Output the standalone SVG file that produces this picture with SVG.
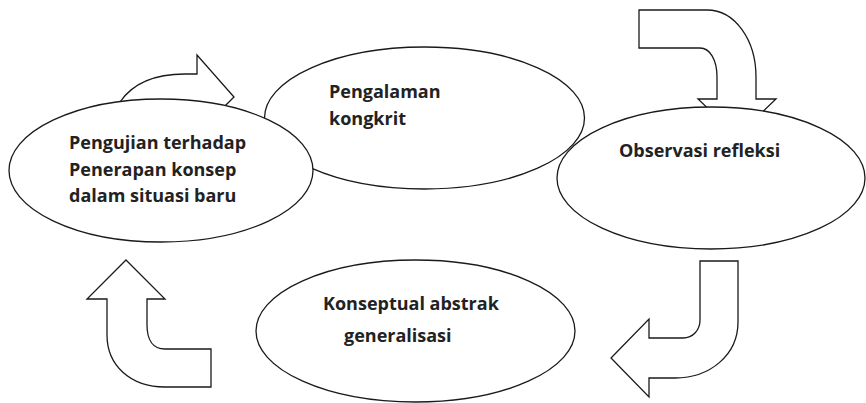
<svg xmlns="http://www.w3.org/2000/svg" width="866" height="403" viewBox="0 0 866 403">
<style>
.arrow{fill:#fff;stroke:#1a1a1a;stroke-width:1.3;stroke-linejoin:miter}
.node{fill:#fff;stroke:#1a1a1a;stroke-width:1.3}
.lbl{font-family:"Open Sans","Liberation Sans",sans-serif;font-weight:bold;font-size:18px;fill:#222}
</style>
<rect width="866" height="403" fill="#fff"/>
<g id="connectors">
<path class="arrow" d="M120,102 C135,80 160,74 185,74 H197 V55 L234,97 L225,106 L215,125 L130,125 Z"/>
<path class="arrow" d="M639,10 H707 C735,10 756,40 756,77 V99 H776 L737,136 L698,99 H717 V77 C717,60 710,48 700,48 H639 Z"/>
<path class="arrow" d="M700,261 H738 V322 C738,355 710,378 675,378 H649 V397 L611,358 L649,319 V338 H683 C693,338 700,330 700,320 Z"/>
<path class="arrow" d="M126,260 L165,299 H147 V325 C147,340 153,349 165,349 H211 V387 H165 C130,387 107,365 107,335 V299 H87 Z"/>
</g>
<g id="pengalaman">
<ellipse class="node" cx="424.5" cy="118" rx="160" ry="71"/>
<text class="lbl" x="329" y="98">Pengalaman</text>
<text class="lbl" x="329" y="125">kongkrit</text>
</g>
<g id="observasi">
<ellipse class="node" cx="711" cy="178" rx="154" ry="71"/>
<text class="lbl" x="619" y="157">Observasi refleksi</text>
</g>
<g id="konseptual">
<ellipse class="node" cx="415.5" cy="331" rx="159.5" ry="71"/>
<text class="lbl" x="323" y="310">Konseptual abstrak</text>
<text class="lbl" x="344" y="342">generalisasi</text>
</g>
<g id="pengujian">
<ellipse class="node" cx="161" cy="170.5" rx="152" ry="71.5"/>
<text class="lbl" x="69" y="149">Pengujian terhadap</text>
<text class="lbl" x="69" y="176">Penerapan konsep</text>
<text class="lbl" x="69" y="202">dalam situasi baru</text>
</g>
</svg>
